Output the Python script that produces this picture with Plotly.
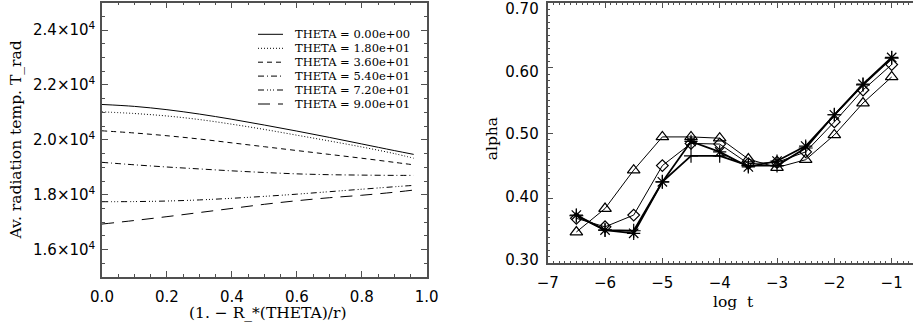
import plotly.graph_objects as go

# ---------------- data ----------------
r_frac = [0.0, 0.1, 0.2, 0.3, 0.4, 0.5, 0.6, 0.7, 0.8, 0.9, 0.96]
theta_labels = ["THETA = 0.00e+00", "THETA = 1.80e+01", "THETA = 3.60e+01",
                "THETA = 5.40e+01", "THETA = 7.20e+01", "THETA = 9.00e+01"]
trad_theta00 = [21290, 21220, 21100, 20940, 20750, 20540, 20320, 20090, 19850, 19610, 19470]
trad_theta18 = [21020, 20960, 20870, 20740, 20570, 20380, 20170, 19960, 19740, 19500, 19330]
trad_theta36 = [20330, 20250, 20150, 20030, 19890, 19750, 19610, 19470, 19330, 19180, 19090]
trad_theta54 = [19180, 19090, 19010, 18940, 18870, 18810, 18760, 18730, 18715, 18705, 18705]
trad_theta72 = [17745, 17750, 17770, 17810, 17870, 17940, 18020, 18110, 18200, 18290, 18340]
trad_theta90 = [16930, 17060, 17200, 17350, 17500, 17650, 17780, 17890, 17980, 18090, 18170]

log_t = [-6.5, -6.0, -5.5, -5.0, -4.5, -4.0, -3.5, -3.0, -2.5, -2.0, -1.5, -1.0]
alpha_triangle = [0.348, 0.384, 0.443, 0.494, 0.494, 0.492, 0.460, 0.447, 0.459, 0.497, 0.546, 0.586]
alpha_diamond = [0.369, 0.356, 0.374, 0.450, 0.484, 0.483, 0.453, 0.455, 0.471, 0.517, 0.566, 0.605]
alpha_plus = [0.373, 0.351, 0.350, 0.425, 0.465, 0.465, 0.450, 0.450, 0.477, 0.528, 0.574, 0.615]
alpha_star = [0.374, 0.351, 0.346, 0.425, 0.487, 0.471, 0.448, 0.457, 0.480, 0.528, 0.575, 0.616]

left_yticks = [16000, 18000, 20000, 22000, 24000]
left_yticktext = ["1.6×10<sup>4</sup>", "1.8×10<sup>4</sup>", "2.0×10<sup>4</sup>",
                  "2.2×10<sup>4</sup>", "2.4×10<sup>4</sup>"]
left_xticks = [0.0, 0.2, 0.4, 0.6, 0.8, 1.0]
left_xticktext = ["0.0", "0.2", "0.4", "0.6", "0.8", "1.0"]
right_xticks = [-7, -6, -5, -4, -3, -2, -1]
right_xticktext = ["−7", "−6", "−5", "−4", "−3", "−2", "−1"]
right_yticks = [0.3, 0.4, 0.5, 0.6, 0.7]
right_yticktext = ["0.30", "0.40", "0.50", "0.60", "0.70"]

# ---------------- styling ----------------
W, H = 913, 330
AX = "#505050"
TICKFONT = dict(family="DejaVu Sans", size=15, color="black")
TITLEFONT = dict(family="DejaVu Serif", size=15.5, color="black")
dashes = ["solid", "1px,2px", "5px,4px", "6px,3px,1px,3px",
          "6px,3px,1px,2px,1px,2px,1px,3px", "12px,8px"]
left_series = [trad_theta00, trad_theta18, trad_theta36, trad_theta54, trad_theta72, trad_theta90]

def px_x(p):
    return p / W

def px_y(p):
    return (H - p) / H

fig = go.Figure()

for vals, dsh, name in zip(left_series, dashes, theta_labels):
    fig.add_trace(go.Scatter(x=r_frac, y=vals, mode="lines", name=name,
                             line=dict(color="black", width=1, dash=dsh, shape="spline"),
                             xaxis="x", yaxis="y", showlegend=False))

right_series = [
    (alpha_triangle, "triangle-up-open", 11, 1),
    (alpha_diamond, "diamond-open", 9, 1),
    (alpha_plus, "cross-thin-open", 10, 1.8),
    (alpha_star, "asterisk-open", 11, 1.8),
]
for vals, sym, sz, lw in right_series:
    fig.add_trace(go.Scatter(x=log_t, y=vals, mode="lines+markers",
                             line=dict(color="black", width=lw),
                             marker=dict(symbol=sym, size=sz, color="black",
                                         line=dict(color="black", width=1.2)),
                             xaxis="x2", yaxis="y2", showlegend=False))

# transparent companion trace so the label-only y axis is drawn
fig.add_trace(go.Scatter(x=log_t, y=alpha_star, mode="lines", opacity=0,
                         line=dict(width=0), hoverinfo="skip",
                         xaxis="x2", yaxis="y3", showlegend=False))

common = dict(showline=True, linecolor=AX, linewidth=1.5, ticks="inside",
              tickcolor=AX, tickwidth=1, ticklen=6, showgrid=False, zeroline=False,
              tickfont=TICKFONT, automargin=False, ticklabeloverflow="allow")

y2_dom = [px_y(263.3), px_y(2.7)]

fig.update_layout(
    width=W, height=H, margin=dict(l=0, r=0, t=0, b=0),
    paper_bgcolor="white", plot_bgcolor="white", showlegend=False,
    xaxis=dict(domain=[px_x(102), px_x(426.7)], range=[0, 1], tickvals=left_xticks,
               ticktext=left_xticktext, mirror="ticks", anchor="y", ticklabelstandoff=5,
               minor=dict(ticks="inside", dtick=0.05, tick0=0, ticklen=3, tickcolor=AX, showgrid=False),
               **common),
    yaxis=dict(domain=[px_y(277), px_y(2.7)], range=[15000, 25000], tickvals=left_yticks,
               ticktext=left_yticktext, mirror="ticks", anchor="x", ticklabelstandoff=2,
               minor=dict(ticks="inside", dtick=500, tick0=15000, ticklen=3, tickcolor=AX, showgrid=False),
               **common),
    xaxis2=dict(domain=[px_x(547.7), 1.0], range=[-7, -7 + (W - 547.7) / 57.33],
                tickvals=right_xticks, ticktext=right_xticktext, mirror="ticks", anchor="y2",
                ticklabelstandoff=5,
                minor=dict(ticks="inside", dtick=0.1, tick0=-7, ticklen=3, tickcolor=AX, showgrid=False),
                **common),
    yaxis2=dict(domain=y2_dom, range=[0.3, 0.7], tickvals=right_yticks,
                showticklabels=False, mirror=False, anchor="x2",
                minor=dict(ticks="inside", dtick=0.01, tick0=0.3, ticklen=3, tickcolor=AX, showgrid=False),
                **common),
    # label-only axis: the original's tick labels sit on a slightly compressed scale
    yaxis3=dict(domain=y2_dom, range=[0.29475, 0.70906], overlaying="y2", anchor="x2",
                side="left", tickvals=right_yticks, ticktext=right_yticktext,
                showline=False, ticks="", showgrid=False, zeroline=False,
                tickfont=TICKFONT, automargin=False, ticklabeloverflow="allow",
                ticklabelstandoff=8),
)

annotations = [
    dict(text="Av. radiation temp. T_rad", x=px_x(15), y=px_y(140.5), textangle=-90),
    dict(text="(1. − R_*(THETA)/r)", x=px_x(267.5), y=px_y(313)),
    dict(text="alpha", x=px_x(492.3), y=px_y(139), textangle=-90),
    dict(text="log  t", x=px_x(733), y=px_y(301.7)),
]
for a in annotations:
    fig.add_annotation(xref="paper", yref="paper", showarrow=False, font=TITLEFONT,
                       xanchor="center", yanchor="middle", **a)

# legend (manual, compact like the original)
row_y = [34.3, 48.3, 62.2, 76.1, 90.0, 104.0]
for ry, dsh, name in zip(row_y, dashes, theta_labels):
    fig.add_shape(type="line", xref="paper", yref="paper",
                  x0=px_x(258), x1=px_x(283), y0=px_y(ry), y1=px_y(ry),
                  line=dict(color="black", width=1, dash=dsh))
    fig.add_annotation(xref="paper", yref="paper", showarrow=False, text=name,
                       x=px_x(292.5), y=px_y(ry), xanchor="left", yanchor="middle",
                       font=dict(family="DejaVu Serif", size=11.5, color="black"))

fig.write_html("out.html", config={"displayModeBar": False},
               post_script="document.body.style.margin='0';")
